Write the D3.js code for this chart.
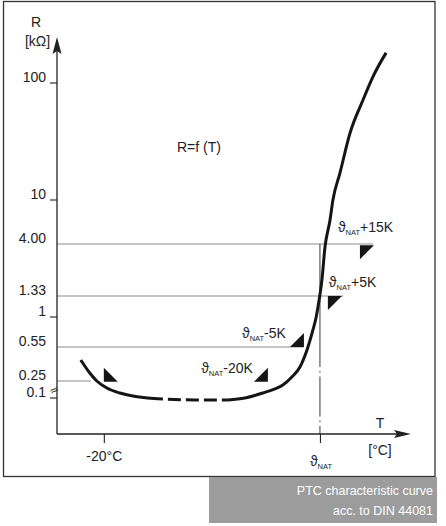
<!DOCTYPE html>
<html>
<head>
<meta charset="utf-8">
<script src="https://cdn.jsdelivr.net/npm/d3@7"></script>
<style>
body{margin:0;background:#fff;}
text{font-family:"Liberation Sans",Arial,"DejaVu Sans",sans-serif;fill:#222;}
</style>
</head>
<body>
<script>
// resistance axis (kOhm)
let yTicks  = [0.1, 0.25, 0.55, 1, 1.33, 4, 10, 100];
let yLabels = ['0.1', '0.25', '0.55', '1', '1.33', '4.00', '10', '100'];
let yMarked = [0.1, 1, 10, 100];
let yRefs   = [0.25, 0.55, 1.33, 4];
let yRefEnd = [-27.2, 91.1, 112.8, 129.4];   // temperature where each line stops

// temperature axis (°C), nat = nominal response temperature
let tNat = 100;
let xTicks = [-20, tNat];

// PTC curve
let coldT = [-32.8, -27.8, -23.9, -18.3, -11.1, -3.9, 4.4, 12.8];
let coldR = [0.407, 0.301, 0.25, 0.171, 0.131, 0.111, 0.1, 0.095];
let gapT  = [12.8, 30.6, 48.9];
let gapR  = [0.095, 0.09, 0.09];
let hotT  = [48.9, 58.3, 68.3, 75, 79.4, 84.4, 88.9, 92.8, 96.1, 97.8, 98.9, 101.1, 102.8, 105.6, 107.2, 111.1, 116.7, 123.9, 129.4, 136.7];
let hotR  = [0.09, 0.1, 0.131, 0.163, 0.201, 0.274, 0.346, 0.513, 0.772, 0.98, 1.146, 1.87, 3.76, 6.6, 10, 17, 37.4, 71.6, 113, 181];

// triangle markers
let markT = [-20, 71.1, 91.1, 104.4, 122.2];
let markR = [0.24, 0.24, 0.55, 1.33, 3.9];
let markText = ['', '-20K', '-5K', '+5K', '+15K'];

let w = 446, h = 526;
let axisY = 434;

let svg = d3.select('body')
    .append('svg')
    .attr('width', w)
    .attr('height', h);

let x = d3.scaleLinear()
    .domain([-46, 150])
    .range([57, 410]);

// broken log axis: anchors follow the drawing
let y = d3.scaleLog()
    .domain(yTicks)
    .range([398, 381, 347, 317, 296, 244, 200, 83]);

// frame and caption box
svg.append('rect')
    .attr('x', 3.5).attr('y', 1.5)
    .attr('width', 431.5).attr('height', 475)
    .attr('fill', 'none')
    .attr('stroke', '#333')
    .attr('stroke-width', 1.3);

svg.append('rect')
    .attr('x', 209).attr('y', 477)
    .attr('width', 228).attr('height', 46)
    .attr('fill', '#9c9c9c');

let caption = ['PTC characteristic curve', 'acc. to DIN 44081'];
svg.selectAll('.cap')
    .data(caption)
    .enter()
    .append('text')
    .attr('class', 'cap')
    .attr('x', 433)
    .attr('y', (d, i) => 495 + i * 20)
    .attr('text-anchor', 'end')
    .style('font-size', '12.5px')
    .style('fill', '#fff')
    .text(d => d);

// reference lines
svg.selectAll('.ref')
    .data(yRefs)
    .enter()
    .append('line')
    .attr('class', 'ref')
    .attr('x1', x.range()[0])
    .attr('x2', (d, i) => x(yRefEnd[i]))
    .attr('y1', d => y(d))
    .attr('y2', d => y(d))
    .attr('stroke', '#8c8c8c')
    .attr('stroke-width', 1.1);

// nat marker line
svg.append('line')
    .attr('x1', x(tNat)).attr('x2', x(tNat))
    .attr('y1', y(4)).attr('y2', 327)
    .attr('stroke', '#222')
    .attr('stroke-width', 0.9);

svg.append('line')
    .attr('x1', x(tNat)).attr('x2', x(tNat))
    .attr('y1', 327).attr('y2', axisY)
    .attr('stroke', '#222')
    .attr('stroke-width', 0.9)
    .attr('stroke-dasharray', '40,4,1.5,4');

// curve
let line = d3.line()
    .x(d => x(d[0]))
    .y(d => y(d[1]))
    .curve(d3.curveMonotoneX);

let zip = (a, b) => a.map((v, i) => [v, b[i]]);

svg.append('path')
    .attr('d', line(zip(coldT, coldR)))
    .attr('fill', 'none')
    .attr('stroke', '#151515')
    .attr('stroke-width', 3);

svg.append('path')
    .attr('d', line(zip(gapT, gapR)))
    .attr('fill', 'none')
    .attr('stroke', '#151515')
    .attr('stroke-width', 3)
    .attr('stroke-dasharray', '13,5')
    .attr('stroke-dashoffset', 13);

svg.append('path')
    .attr('d', line(zip(hotT, hotR)))
    .attr('fill', 'none')
    .attr('stroke', '#151515')
    .attr('stroke-width', 3);

// triangles, right angle at the data point
let dirs = [[1, -1], [-1, -1], [-1, -1], [1, 1], [1, 1]];
let s = 14;
svg.selectAll('.mark')
    .data(markT)
    .enter()
    .append('path')
    .attr('class', 'mark')
    .attr('d', (d, i) => {
        let px = x(d), py = y(markR[i]);
        let dx = dirs[i][0] * s, dy = dirs[i][1] * s;
        return `M${px},${py}L${px + dx},${py}L${px},${py + dy}Z`;
    })
    .attr('fill', '#151515');

// nat labels beside the triangles
let labOff = [null, [-15, -9, 'end'], [-18, -9, 'end'], [1, -9, 'start'], [-22, -13, 'start']];

let natText = (sel, suffix) => {
    sel.append('tspan').text('\u03d1');
    sel.append('tspan').text('NAT').attr('dy', 3).style('font-size', '7.5px');
    if (suffix) sel.append('tspan').text(suffix).attr('dy', -3);
};

markT.forEach((d, i) => {
    if (!markText[i]) return;
    let t = svg.append('text')
        .attr('x', x(d) + labOff[i][0])
        .attr('y', y(markR[i]) + labOff[i][1])
        .attr('text-anchor', labOff[i][2])
        .style('font-size', '14px');
    natText(t, markText[i]);
});

svg.append('text')
    .attr('x', 177).attr('y', 152)
    .style('font-size', '14px')
    .text('R=f (T)');

// y axis
let yAxis = svg.append('g')
    .attr('transform', `translate(${x.range()[0]},0)`)
    .call(d3.axisLeft(y).tickValues(yTicks).tickSize(0).tickPadding(11)
        .tickFormat((d, i) => yLabels[i]));
yAxis.select('.domain').remove();
yAxis.selectAll('text')
    .attr('dy', -2)
    .style('font-size', '14px')
    .style('font-family', '"Liberation Sans",Arial,sans-serif')
    .attr('fill', '#222');

svg.selectAll('.ytick')
    .data(yMarked)
    .enter()
    .append('line')
    .attr('class', 'ytick')
    .attr('x1', x.range()[0] - 7).attr('x2', x.range()[0])
    .attr('y1', d => y(d)).attr('y2', d => y(d))
    .attr('stroke', '#222')
    .attr('stroke-width', 1.1);

// axis break sign
svg.append('text')
    .attr('x', 54).attr('y', y(0.1) - 4)
    .attr('text-anchor', 'middle')
    .attr('transform', `rotate(-30,54,${y(0.1) - 8})`)
    .style('font-size', '12px')
    .style('font-family', '"DejaVu Sans",sans-serif')
    .style('fill', '#444')
    .text('\u2248');

svg.append('line')
    .attr('x1', x.range()[0]).attr('x2', x.range()[0])
    .attr('y1', axisY).attr('y2', 50)
    .attr('stroke', '#222')
    .attr('stroke-width', 1.3);

svg.append('path')
    .attr('d', `M${x.range()[0]},37L${x.range()[0] + 4.5},54L${x.range()[0]},51L${x.range()[0] - 4.5},54Z`)
    .attr('fill', '#222');

svg.append('text')
    .attr('x', 36).attr('y', 27)
    .attr('text-anchor', 'middle')
    .style('font-size', '14px')
    .text('R');

svg.append('text')
    .attr('x', 37.5).attr('y', 46)
    .attr('text-anchor', 'middle')
    .style('font-size', '14px')
    .text('[k\u03a9]');

// x axis
let xAxis = svg.append('g')
    .attr('transform', `translate(0,${axisY})`)
    .call(d3.axisBottom(x).tickValues(xTicks).tickSize(9).tickPadding(10)
        .tickFormat(d => d === tNat ? '' : d + '°C'));
xAxis.select('.domain').remove();
xAxis.selectAll('line').attr('stroke', '#222').attr('stroke-width', 1.1);
xAxis.selectAll('text')
    .attr('dy', 0)
    .attr('y', 27)
    .style('font-size', '14px')
    .style('font-family', '"Liberation Sans",Arial,sans-serif')
    .attr('fill', '#222');

let natTick = svg.append('text')
    .attr('x', x(tNat) + 1).attr('y', 466)
    .attr('text-anchor', 'middle')
    .style('font-size', '14px');
natText(natTick, '');

svg.append('line')
    .attr('x1', x.range()[0]).attr('x2', 398)
    .attr('y1', axisY).attr('y2', axisY)
    .attr('stroke', '#222')
    .attr('stroke-width', 1.3);

svg.append('path')
    .attr('d', `M411,${axisY}L394,${axisY - 4}L397,${axisY}L394,${axisY + 4}Z`)
    .attr('fill', '#222');

svg.append('text')
    .attr('x', 380).attr('y', 428)
    .attr('text-anchor', 'middle')
    .style('font-size', '14px')
    .text('T');

svg.append('text')
    .attr('x', 380).attr('y', 455)
    .attr('text-anchor', 'middle')
    .style('font-size', '14px')
    .text('[°C]');
</script>
</body>
</html>
